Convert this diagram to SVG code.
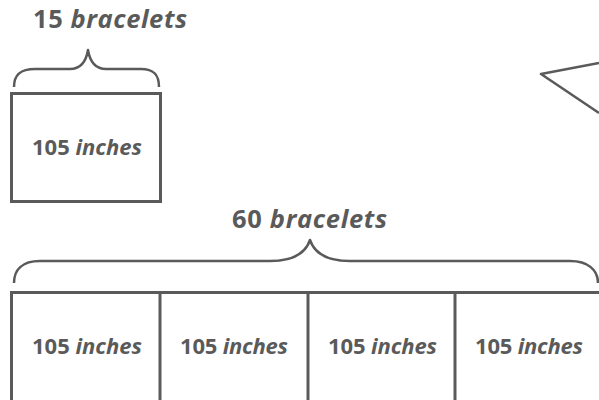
<svg xmlns="http://www.w3.org/2000/svg" width="599" height="400" viewBox="0 0 599 400">
<style>
.box{fill:none;stroke:#5a5a5a;stroke-width:3}
.ln{fill:none;stroke:#5a5a5a;stroke-width:2.5;stroke-linejoin:round}
.t{font-family:"Open Sans",Lato,sans-serif;font-weight:bold;fill:#5a5a5a}
.lb{font-size:25.5px}
.c{font-size:22px}
.i{font-style:italic}
</style>
<rect width="599" height="400" fill="#fff"/>
<g id="label15">
<text class="t lb" x="33" y="28" textLength="154" lengthAdjust="spacing">15 <tspan class="i">bracelets</tspan></text>
</g>
<g id="brace15">
<path class="ln" d="M14,87 C14,75 20,69 35,69 L70,69 C80,69 86,62 88,50 C90,62 96,69 106,69 L141,69 C154,69 159,75 159,87"/>
</g>
<g id="box15">
<rect class="box" x="11.5" y="93.5" width="149" height="108"/>
<text class="t c" x="32" y="155" textLength="110" lengthAdjust="spacing">105 <tspan class="i">inches</tspan></text>
</g>
<g id="triangle">
<path class="ln" d="M599,63 L541,74 L599,113"/>
</g>
<g id="label60">
<text class="t lb" x="232" y="228" textLength="155" lengthAdjust="spacing">60 <tspan class="i">bracelets</tspan></text>
</g>
<g id="brace60">
<path class="ln" d="M14,283 C14,270 22,261 40,261 L270,261 C290,261 305,255 310,240 C315,255 330,261 350,261 L570,261 C588,261 598,270 598,283"/>
</g>
<g id="bar60">
<path class="box" d="M11.5,400 L11.5,292.5 L599,292.5"/>
<line class="box" x1="160" y1="292.5" x2="160" y2="400"/>
<line class="box" x1="308" y1="292.5" x2="308" y2="400"/>
<line class="box" x1="455" y1="292.5" x2="455" y2="400"/>
<text class="t c" x="32" y="354" textLength="110" lengthAdjust="spacing">105 <tspan class="i">inches</tspan></text>
<text class="t c" x="180" y="354" textLength="108" lengthAdjust="spacing">105 <tspan class="i">inches</tspan></text>
<text class="t c" x="328" y="354" textLength="109" lengthAdjust="spacing">105 <tspan class="i">inches</tspan></text>
<text class="t c" x="475" y="354" textLength="108" lengthAdjust="spacing">105 <tspan class="i">inches</tspan></text>
</g>
</svg>
